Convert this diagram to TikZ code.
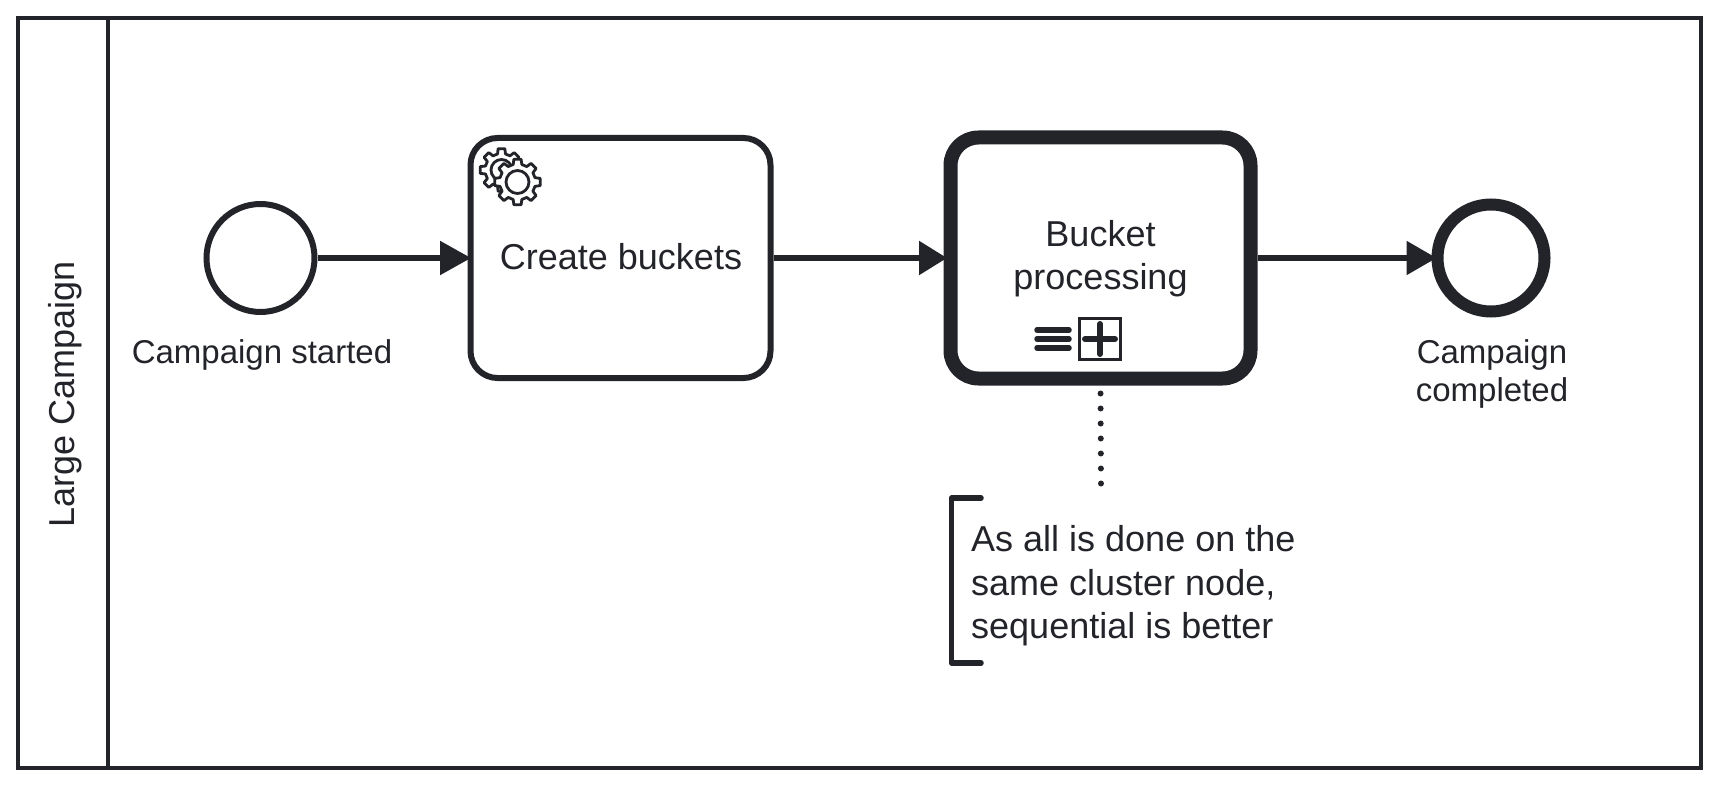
\documentclass[tikz,border=0pt]{standalone}
\usepackage{fontspec}
\setmainfont{Liberation Sans}
\usetikzlibrary{arrows.meta,calc}
\definecolor{ink}{HTML}{22242A}
\tikzset{
  x=1pt,y=-1pt,
  every node/.style={text=ink,inner sep=0pt},
  laneframe/.style={draw=ink,line width=4pt,rectangle,outer sep=0pt},
  startev/.style={circle,draw=ink,line width=6pt,fill=white,minimum size=108pt,outer sep=3pt},
  endev/.style={circle,draw=ink,line width=12pt,fill=white,minimum size=107pt,outer sep=6pt},
  taskbox/.style={rectangle,rounded corners=27pt,draw=ink,line width=6pt,fill=white,minimum width=300pt,minimum height=240pt,outer sep=3pt},
  callbox/.style={rectangle,rounded corners=28pt,draw=ink,line width=14pt,fill=white,minimum width=300pt,minimum height=241pt,outer sep=7pt},
  flow/.style={draw=ink,line width=5.5pt,shorten >=-3.5pt,-{Triangle[length=31pt,width=33pt]}},
  flowshort/.style={draw=ink,line width=5.5pt,shorten >=-3.5pt,-{Triangle[length=28pt,width=33pt]}},
  flowend/.style={draw=ink,line width=5.5pt,shorten >=-5pt,-{Triangle[length=30pt,width=33pt]}},
  assoc/.style={draw=ink,line width=6pt,line cap=round,dash pattern=on 0pt off 15pt},
  big/.style={font=\fontsize{36}{43.5}\selectfont,align=center},
  small/.style={font=\fontsize{33}{38.5}\selectfont,align=center},
  gearline/.style={draw=ink,line width=2.8pt,line join=round,fill=white},
  glyphline/.style={draw=ink,line cap=round},
}
\newcommand{\gearshape}[3]{% cx, cy, outer radius
  \draw[gearline] ($(#1,#2)+(-14:#3-5)$)
    \foreach \a in {0,45,...,315} {
      -- ($(#1,#2)+(\a-14:#3-5)$) -- ($(#1,#2)+(\a-9:#3)$) -- ($(#1,#2)+(\a+9:#3)$) -- ($(#1,#2)+(\a+14:#3-5)$)
    } -- cycle;
}
\begin{document}
\begin{tikzpicture}
\useasboundingbox (0,0) rectangle (1719,786);
% pool
\node[laneframe,minimum width=1683pt,minimum height=749pt] (pool) at (859.5,393) {};
\node[laneframe,minimum width=90pt,minimum height=749pt] (head) at (63,393) {};
\node[rotate=90,font=\fontsize{36}{43}\selectfont] (title) at (65,394) {Large Campaign};
% events and tasks
\node[startev] (start) at (260.5,258) {};
\node[taskbox] (create) at (620.5,258) {};
\node[callbox] (bucket) at (1100.5,258) {};
\node[endev] (end) at (1491,258) {};
% labels
\node[big] (createlabel) at (621,257) {Create buckets};
\node[big,font=\fontsize{36}{43}\selectfont] (bucketlabel) at (1100.5,259) {Bucket\\processing};
\node[small] (startlabel) at (262,355) {Campaign started};
\node[small] (endlabel) at (1492,374) {Campaign\\completed};
% flows
\draw[flow] (start.east) -- (create.west);
\draw[flowshort] (create.east) -- (bucket.west);
\draw[flowend] (bucket.east) -- (end.west);
% service icon
\gearshape{501.5}{170}{21.5}
\draw[draw=ink,line width=2.8pt] (501.5,170) circle (10.5);
\gearshape{517.5}{182}{23}
\draw[draw=ink,line width=2.8pt] (517.5,182) circle (11.5);
% markers
\draw[glyphline,line width=5.5pt] (1037,330) -- (1069,330);
\draw[glyphline,line width=5.5pt] (1037,339) -- (1069,339);
\draw[glyphline,line width=5.5pt] (1037,348) -- (1069,348);
\node[draw=ink,line width=3pt,rectangle,minimum size=41pt,outer sep=1.5pt] (expand) at (1100,339) {};
\draw[glyphline,line width=6pt] (1085,339) -- (1115,339);
\draw[glyphline,line width=6pt] (1100,324) -- (1100,354);
% annotation
\coordinate (noteend) at (1101,484);
\draw[assoc,shorten <=8pt] (bucket.south) -- (noteend);
\node[big,align=left,anchor=west] (note) at (971,586) {As all is done on the\\same cluster node,\\sequential is better};
\draw[draw=ink,line width=5.5pt,line cap=round,line join=round] (981,498) -- (951.5,498) -- (951.5,663) -- (981,663);
\end{tikzpicture}
\end{document}
